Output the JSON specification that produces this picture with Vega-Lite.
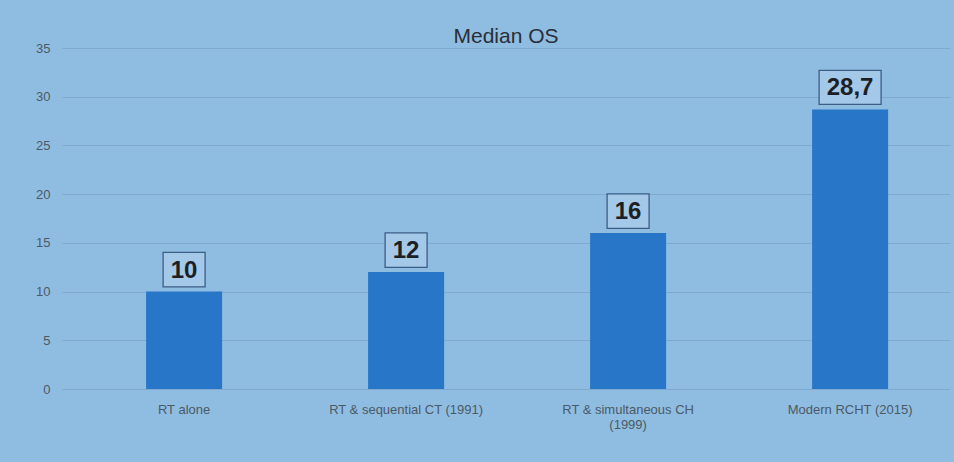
{
  "$schema": "https://vega.github.io/schema/vega-lite/v6.json",
  "autosize": "none",
  "width": 888,
  "height": 341,
  "padding": {"left": 62, "top": 48, "right": 4, "bottom": 73},
  "background": "#8fbde1",
  "title": {"text": "Median OS", "fontSize": 21, "font": "Liberation Sans", "fontWeight": "normal", "color": "#2a2f36", "anchor": "middle", "offset": -5},
  "data": {"values": [
    {"group": "RT alone", "months": 10, "label": "10"},
    {"group": "RT & sequential CT (1991)", "months": 12, "label": "12"},
    {"group": "RT & simultaneous CH (1999)", "months": 16, "label": "16"},
    {"group": "Modern RCHT (2015)", "months": 28.7, "label": "28,7"}
  ]},
  "encoding": {
    "x": {"field": "group", "type": "nominal", "sort": null,
      "scale": {"paddingInner": 0.5, "paddingOuter": 0.25, "align": 0.6},
      "axis": {"title": null, "labelAngle": 0, "domain": false, "ticks": false, "labelPadding": 14, "labelFontSize": 13, "labelFont": "Liberation Sans", "labelColor": "#4c5966", "labelLimit": 300,
        "labelExpr": "datum.label == 'RT & simultaneous CH (1999)' ? ['RT & simultaneous CH', '(1999)'] : datum.label"}},
    "y": {"field": "months", "type": "quantitative",
      "scale": {"domain": [0, 35], "nice": false},
      "axis": {"title": null, "values": [0, 5, 10, 15, 20, 25, 30, 35], "domain": false, "ticks": false, "labelPadding": 12, "labelFontSize": 13, "labelFont": "Liberation Sans", "labelColor": "#4c5966", "gridColor": "#7fa9cf", "gridWidth": 1}}
  },
  "layer": [
    {"mark": {"type": "bar", "size": 76, "color": "#2776c8"}},
    {"transform": [{"filter": "length(datum.label) <= 2"}],
     "mark": {"type": "point", "shape": "M-1,-0.82L1,-0.82L1,0.82L-1,0.82Z", "size": 1764, "filled": true, "fill": "#a3c8e8", "stroke": "#3d5d86", "strokeWidth": 1.3, "opacity": 1, "yOffset": -22}},
    {"transform": [{"filter": "length(datum.label) > 2"}],
     "mark": {"type": "point", "shape": "M-1,-0.55L1,-0.55L1,0.55L-1,0.55Z", "size": 3844, "filled": true, "fill": "#a3c8e8", "stroke": "#3d5d86", "strokeWidth": 1.3, "opacity": 1, "yOffset": -22}},
    {"mark": {"type": "text", "fontSize": 24, "fontWeight": "bold", "font": "Liberation Sans", "color": "#1c1f26", "baseline": "middle", "yOffset": -21},
     "encoding": {"text": {"field": "label"}}}
  ],
  "config": {"view": {"stroke": null}}
}
